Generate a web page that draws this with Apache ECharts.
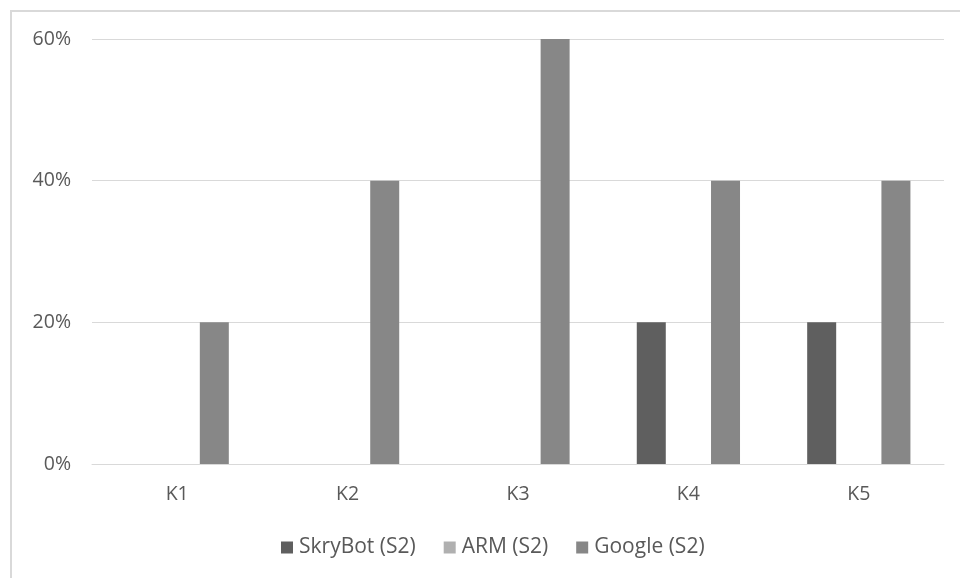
<!DOCTYPE html>
<html><head><meta charset="utf-8">
<script src="https://cdn.jsdelivr.net/npm/echarts@6/dist/echarts.min.js"></script>
<style>html,body{margin:0;padding:0;background:#fff}#c{width:960px;height:578px}</style>
</head><body><div id="c"></div>
<script>
var categories = ['K1','K2','K3','K4','K5'];
var skrybot = [0, 0, 0, 20, 20];
var arm = [0, 0, 0, 0, 0];
var google = [20, 40, 60, 40, 40];
var seriesNames = ['SkryBot (S2)', 'ARM (S2)', 'Google (S2)'];
var yTicks = [0, 20, 40, 60];

var font = '"Open Sans", "Noto Sans", sans-serif';
var chart = echarts.init(document.getElementById('c'), null, {renderer: 'canvas'});
chart.setOption({
  animation: false,
  graphic: [{type: 'rect', shape: {x: 11, y: 11, width: 960, height: 600}, style: {fill: 'none', stroke: '#d9d9d9', lineWidth: 2}, silent: true}],
  grid: {left: 92, right: 16, top: 39, bottom: 114, containLabel: false},
  legend: {
    bottom: 20, left: 281, padding: 0, itemWidth: 12, itemHeight: 12, itemGap: 28,
    icon: 'rect',
    textStyle: {color: '#595959', fontSize: 21, fontFamily: font, padding: [0, 0, 0, 1]},
    data: seriesNames
  },
  xAxis: {
    type: 'category', data: categories,
    axisLine: {lineStyle: {color: '#d9d9d9', width: 1}},
    axisTick: {show: false},
    axisLabel: {color: '#595959', fontSize: 19.5, fontFamily: font, margin: 20}
  },
  yAxis: {
    type: 'value', min: yTicks[0], max: yTicks[yTicks.length-1], interval: 20,
    axisLine: {show: false}, axisTick: {show: false},
    splitLine: {lineStyle: {color: '#d9d9d9', width: 1}},
    axisLabel: {color: '#595959', fontSize: 19.5, fontFamily: font, margin: 21, formatter: '{value}%'}
  },
  series: [
    {name: seriesNames[0], type: 'bar', data: skrybot, barWidth: 29, barGap: '28%', itemStyle: {color: '#5f5f5f'}},
    {name: seriesNames[1], type: 'bar', data: arm, barWidth: 29, barGap: '28%', itemStyle: {color: '#b0b0b0'}},
    {name: seriesNames[2], type: 'bar', data: google, barWidth: 29, barGap: '28%', itemStyle: {color: '#878787'}}
  ]
});
</script></body></html>
